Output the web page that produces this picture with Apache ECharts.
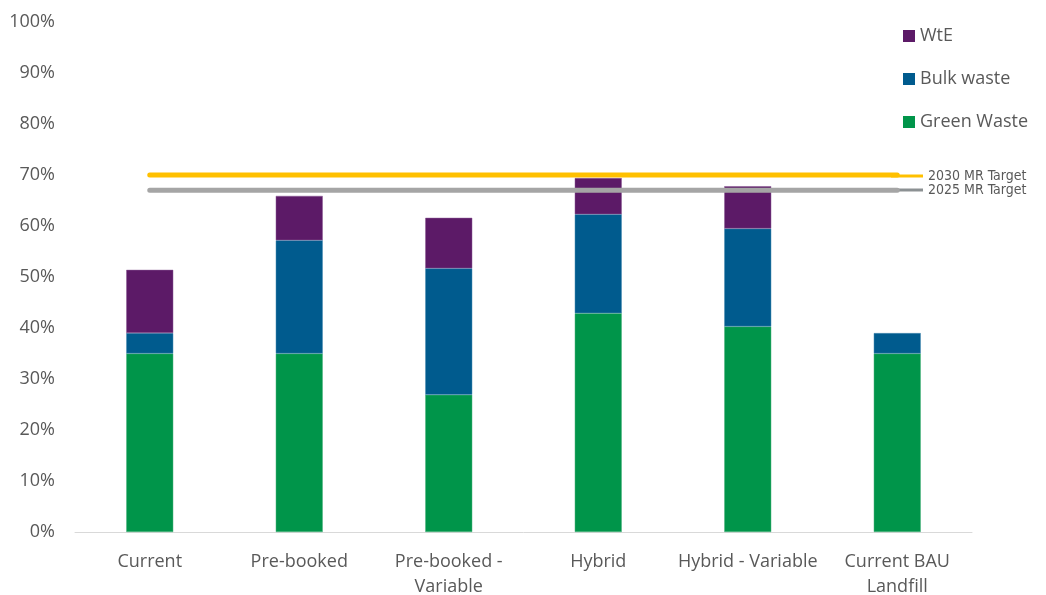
<!DOCTYPE html>
<html>
<head>
<meta charset="utf-8">
<script src="https://cdn.jsdelivr.net/npm/echarts@6/dist/echarts.min.js"></script>
<style>html,body{margin:0;padding:0;background:#fff}#c{width:1046px;height:595px}</style>
</head>
<body>
<div id="c"></div>
<script>
const categories = ['Current', 'Pre-booked', 'Pre-booked -\nVariable', 'Hybrid', 'Hybrid - Variable', 'Current BAU\nLandfill'];
const greenWaste = [35.0, 35.0, 26.9, 42.9, 40.3, 35.0];
const bulkWaste = [4.0, 22.2, 24.8, 19.4, 19.2, 4.0];
const wte = [12.4, 8.7, 9.9, 7.1, 8.3, null];
const target2030 = [70, 70, 70, 70, 70, 70];
const target2025 = [67, 67, 67, 67, 67, 67];
const yTicks = [0, 10, 20, 30, 40, 50, 60, 70, 80, 90, 100];

const font = '"Open Sans", "Noto Sans", sans-serif';
const chart = echarts.init(document.getElementById('c'), null, {renderer: 'canvas'});
chart.setOption({
  animation: false,
  backgroundColor: '#fff',
  grid: {left: 75, right: 74, top: 22, bottom: 63, outerBoundsMode: 'none', containLabel: false},
  legend: [{
    orient: 'vertical',
    left: 898,
    top: 22,
    itemGap: 25,
    itemWidth: 12,
    itemHeight: 12,
    icon: 'rect',
    itemStyle: {borderWidth: 0},
    data: ['WtE', 'Bulk waste', 'Green Waste'],
    textStyle: {color: '#595959', fontSize: 18, fontFamily: font}
  }, {
    orient: 'vertical',
    left: 886,
    top: 164,
    itemGap: 0,
    itemWidth: 32,
    itemHeight: 3,
    icon: 'rect',
    itemStyle: {borderWidth: 0},
    data: ['2030 MR Target', '2025 MR Target'],
    textStyle: {color: '#595959', fontSize: 14, fontFamily: '"Liberation Sans Narrow", "DejaVu Sans Condensed", sans-serif'}
  }],
  xAxis: {
    type: 'category',
    data: categories,
    axisLine: {lineStyle: {color: '#d9d9d9', width: 1}},
    axisTick: {show: false},
    axisLabel: {color: '#595959', fontSize: 18, fontFamily: font, margin: 17, lineHeight: 25, interval: 0}
  },
  yAxis: {
    type: 'value',
    min: 0,
    max: 100,
    interval: 10,
    splitLine: {show: false},
    axisLine: {show: false},
    axisTick: {show: false},
    axisLabel: {color: '#595959', fontSize: 18, fontFamily: font, margin: 20,
      formatter: v => yTicks.includes(v) ? v + '%' : ''}
  },
  series: [
    {name: 'Green Waste', type: 'bar', stack: 'a', data: greenWaste, barWidth: 47,
      itemStyle: {color: '#00954A', borderColor: '#4fb27f', borderWidth: 0.5}},
    {name: 'Bulk waste', type: 'bar', stack: 'a', data: bulkWaste, barWidth: 47,
      itemStyle: {color: '#005B8E', borderColor: '#4a8cb3', borderWidth: 0.5}},
    {name: 'WtE', type: 'bar', stack: 'a', data: wte, barWidth: 47,
      itemStyle: {color: '#5C1A67', borderColor: '#8a5a94', borderWidth: 0.5}},
    {name: '2030 MR Target', type: 'line', data: target2030, symbol: 'none',
      lineStyle: {color: '#FFC000', width: 5, cap: 'round'}, itemStyle: {color: '#FFC000'}, z: 5},
    {name: '2025 MR Target', type: 'line', data: target2025, symbol: 'none',
      lineStyle: {color: '#A5A5A5', width: 5, cap: 'round'}, itemStyle: {color: '#8C9193'}, z: 5}
  ]
});
</script>
</body>
</html>
